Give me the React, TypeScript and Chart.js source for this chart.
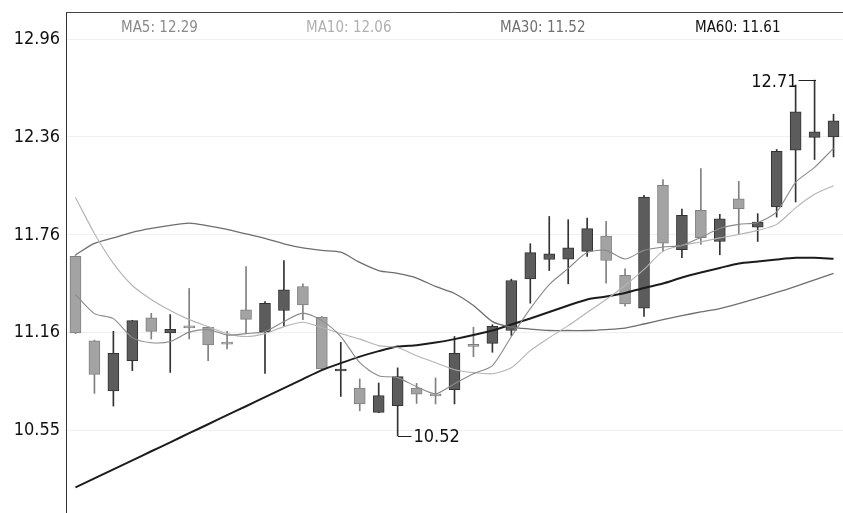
import React, { useEffect, useRef } from 'react';
import { Chart, registerables } from 'chart.js';

Chart.register(...registerables);

// ---- data ----
const categories: string[] = Array.from({ length: 41 }, (_, i) => `K${i + 1}`);

const opens = [
  11.625, 11.105, 10.797, 10.984, 11.247, 11.154, 11.189, 11.189, 11.088, 11.296,
  11.162, 11.292, 11.44, 11.251, 10.92, 10.815, 10.665, 10.706, 10.815, 10.77,
  10.805, 11.073, 11.09, 11.169, 11.487, 11.606, 11.608, 11.656, 11.75, 11.508,
  11.306, 12.062, 11.666, 11.908, 11.717, 11.98, 11.805, 11.929, 12.278, 12.357,
  12.36,
];
const highs = [
  11.63, 11.11, 11.164, 11.232, 11.275, 11.267, 11.428, 11.195, 11.164, 11.563,
  11.347, 11.6, 11.456, 11.255, 11.096, 10.871, 10.846, 10.939, 10.844, 10.877,
  11.132, 11.189, 11.205, 11.485, 11.703, 11.871, 11.851, 11.861, 11.841, 11.549,
  12.001, 12.098, 11.916, 12.165, 11.884, 12.087, 11.888, 12.283, 12.68, 12.71,
  12.5,
];
const lows = [
  11.15, 10.782, 10.704, 10.922, 11.117, 10.911, 11.117, 10.984, 11.056, 11.152,
  10.905, 11.193, 11.236, 10.928, 10.763, 10.675, 10.663, 10.52, 10.72, 10.717,
  10.717, 11.008, 11.035, 11.138, 11.337, 11.538, 11.456, 11.625, 11.46, 11.318,
  11.255, 11.657, 11.617, 11.699, 11.635, 11.76, 11.717, 11.867, 11.96, 12.221,
  12.237,
];
const closes = [
  11.154, 10.899, 11.029, 11.23, 11.164, 11.176, 11.185, 11.08, 11.085, 11.238,
  11.337, 11.419, 11.327, 10.932, 10.924, 10.717, 10.768, 10.885, 10.778, 10.767,
  11.029, 11.071, 11.195, 11.477, 11.648, 11.641, 11.678, 11.796, 11.6, 11.333,
  11.99, 11.707, 11.878, 11.74, 11.857, 11.919, 11.836, 12.272, 12.514, 12.391,
  12.459,
];

const ma5 = [
  11.39, 11.273, 11.242, 11.125, 11.094, 11.101, 11.159, 11.175, 11.141, 11.15,
  11.162, 11.224, 11.276, 11.23, 11.132, 10.971, 10.891, 10.879, 10.823, 10.78,
  10.842, 10.903, 10.953, 11.132, 11.304, 11.452, 11.551, 11.649, 11.662, 11.609,
  11.662, 11.683, 11.693, 11.742, 11.797, 11.822, 11.834, 11.899, 12.081, 12.173,
  12.29,
];
const ma10 = [
  11.988, 11.766, 11.582, 11.446, 11.36, 11.292, 11.236, 11.193, 11.15, 11.132,
  11.15, 11.193, 11.22, 11.187, 11.15, 11.116, 11.076, 11.064, 11.014, 10.971,
  10.928, 10.91, 10.903, 10.94, 11.045, 11.125, 11.199, 11.28, 11.36, 11.446,
  11.545, 11.656, 11.693, 11.714, 11.739, 11.76, 11.785, 11.822, 11.924, 12.007,
  12.06,
];
const ma30 = [
  11.634, 11.705, 11.739, 11.773, 11.797, 11.816, 11.83, 11.813, 11.791, 11.763,
  11.736, 11.702, 11.677, 11.662, 11.651, 11.588, 11.538, 11.52, 11.492, 11.44,
  11.397, 11.323, 11.224, 11.19, 11.178, 11.169, 11.169, 11.169, 11.175, 11.184,
  11.209, 11.236, 11.261, 11.283, 11.304, 11.335, 11.369, 11.403, 11.44, 11.48,
  11.52,
];
const ma60 = [
  10.204, 10.259, 10.315, 10.37, 10.426, 10.481, 10.537, 10.592, 10.648, 10.703,
  10.759, 10.814, 10.87, 10.925, 10.968, 11.008, 11.042, 11.07, 11.079, 11.095,
  11.116, 11.141, 11.169, 11.206, 11.243, 11.283, 11.323, 11.36, 11.378, 11.4,
  11.431, 11.458, 11.495, 11.526, 11.554, 11.582, 11.594, 11.606, 11.616, 11.616,
  11.61,
];

const maNames = ['MA5', 'MA10', 'MA30', 'MA60'];
const yTickValues = [10.5525, 11.155, 11.7575, 12.36, 12.9625];
const yTickLabels = ['10.55', '11.16', '11.76', '12.36', '12.96'];
const yMin = 10.046;
const yMax = 13.129;

// ---- styles ----
const FONT = '"DejaVu Sans Condensed", "Liberation Sans Narrow", "Arial Narrow", sans-serif';
const UP_FILL = '#5c5c5c';
const UP_LINE = '#333333';
const DOWN_FILL = '#a3a3a3';
const DOWN_LINE = '#808080';
const maColors = ['#8a8a8a', '#b4b4b4', '#6e6e6e', '#1c1c1c'];
const headerColors = ['#8a8a8a', '#b0b0b0', '#707070', '#111111'];
const headerX = [121, 306, 500, 695];

const isUp = (i: number) => closes[i] >= opens[i];

const overlayPlugin = {
  id: 'overlay',
  afterDatasetsDraw(chart: any) {
    const { ctx, chartArea } = chart;
    const xs = chart.scales.x;
    const ys = chart.scales.y;
    ctx.save();
    // top border
    ctx.strokeStyle = '#444';
    ctx.lineWidth = 1;
    ctx.beginPath();
    ctx.moveTo(chartArea.left, chartArea.top + 0.5);
    ctx.lineTo(chartArea.right, chartArea.top + 0.5);
    ctx.stroke();

    // header
    const mas = [ma5, ma10, ma30, ma60];
    ctx.font = `15px ${FONT}`;
    ctx.textBaseline = 'middle';
    ctx.textAlign = 'left';
    mas.forEach((arr, k) => {
      ctx.fillStyle = headerColors[k];
      ctx.fillText(`${maNames[k]}: ${arr[arr.length - 1].toFixed(2)}`, headerX[k], chartArea.top + 16);
    });

    // max / min annotations
    let hi = 0;
    let lo = 0;
    highs.forEach((v, i) => { if (v > highs[hi]) hi = i; });
    lows.forEach((v, i) => { if (v < lows[lo]) lo = i; });
    ctx.font = `18px ${FONT}`;
    ctx.fillStyle = '#111';
    ctx.strokeStyle = '#222';
    ctx.lineWidth = 1;

    const lx = Math.round(xs.getPixelForValue(lo)) + 0.5;
    const ly = Math.round(ys.getPixelForValue(lows[lo])) + 0.5;
    ctx.beginPath();
    ctx.moveTo(lx - 0.5, ly);
    ctx.lineTo(lx + 13, ly);
    ctx.stroke();
    ctx.textAlign = 'left';
    ctx.fillText(lows[lo].toFixed(2), lx + 15, ly + 1);

    const hx = Math.round(xs.getPixelForValue(hi)) + 0.5;
    const hy = Math.round(ys.getPixelForValue(highs[hi])) + 0.5;
    ctx.beginPath();
    ctx.moveTo(hx + 0.5, hy);
    ctx.lineTo(hx - 17, hy);
    ctx.stroke();
    ctx.textAlign = 'right';
    ctx.fillText(highs[hi].toFixed(2), hx - 18, hy + 2);
    ctx.restore();
  },
};

export default function App() {
  const ref = useRef<HTMLCanvasElement | null>(null);

  useEffect(() => {
    if (!ref.current) return;
    const maData = [ma5, ma10, ma30, ma60];
    const chart = new Chart(ref.current, {
      type: 'bar',
      data: {
        labels: categories,
        datasets: [
          ...maData.map((arr, k) => ({
            type: 'line' as const,
            label: maNames[k],
            data: arr,
            borderColor: maColors[k],
            borderWidth: k === 3 ? 2 : k === 2 ? 1.3 : 1.1,
            pointRadius: 0,
            tension: 0.25,
            fill: false,
            order: 0,
          })),
          {
            type: 'bar' as const,
            label: 'body',
            data: opens.map((o, i) => [o, closes[i]]),
            backgroundColor: opens.map((_, i) => (isUp(i) ? UP_FILL : DOWN_FILL)),
            borderColor: opens.map((_, i) => (isUp(i) ? UP_LINE : DOWN_LINE)),
            borderWidth: 1,
            borderSkipped: false,
            barThickness: 11,
            minBarLength: 2,
            grouped: false,
            order: 1,
          },
          {
            type: 'bar' as const,
            label: 'wick',
            data: lows.map((l, i) => [l, highs[i]]),
            backgroundColor: opens.map((_, i) => (isUp(i) ? UP_LINE : DOWN_LINE)),
            borderWidth: 0,
            barThickness: 1,
            grouped: false,
            order: 2,
          },
        ],
      },
      options: {
        animation: false,
        responsive: false,
        events: [],
        layout: { padding: { top: 12, left: 0, right: 0, bottom: 0 } },
        plugins: { legend: { display: false }, tooltip: { enabled: false } },
        scales: {
          x: { display: false, offset: true, grid: { display: false } },
          y: {
            min: yMin,
            max: yMax,
            afterBuildTicks: (s: any) => {
              s.ticks = yTickValues.map((v) => ({ value: v }));
            },
            afterFit: (s: any) => {
              s.width = 66;
              s.paddingTop = 0;
              s.paddingBottom = 0;
            },
            ticks: {
              callback: (_v: any, idx: number) => yTickLabels[idx],
              font: { family: FONT, size: 18 },
              color: '#111',
              padding: 6,
            },
            grid: { color: '#f0f0f0', drawTicks: false },
            border: { display: true, color: '#333', width: 1 },
          },
        },
      },
      plugins: [overlayPlugin],
    } as any);
    return () => chart.destroy();
  }, []);

  return (
    <div style={{ position: 'fixed', left: 0, top: 0, width: 843, height: 513, background: '#fff' }}>
      <canvas ref={ref} width={843} height={513} style={{ display: 'block' }} />
    </div>
  );
}
